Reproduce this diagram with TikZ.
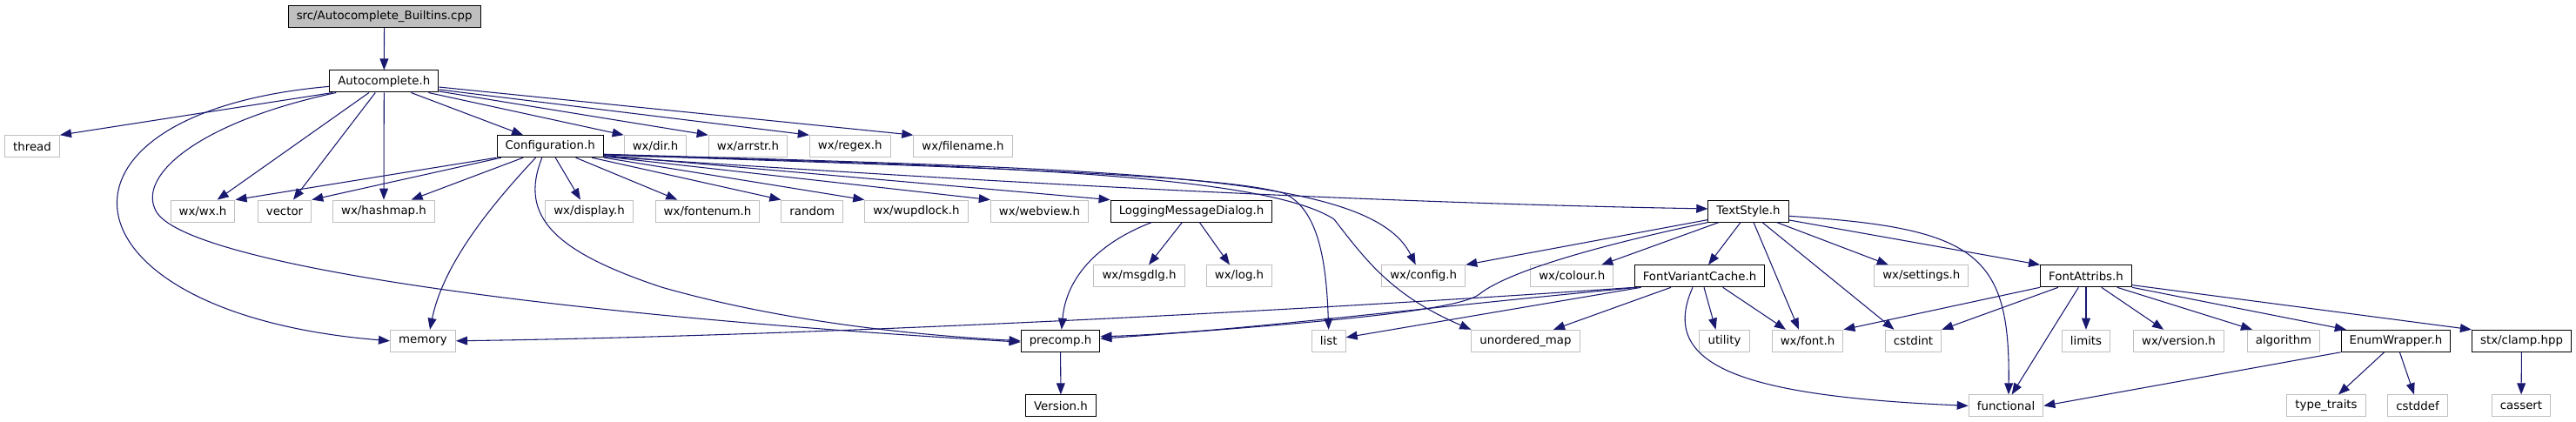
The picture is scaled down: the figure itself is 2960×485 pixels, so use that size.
\documentclass[tikz,border=0pt]{standalone}
\usepackage{fontspec}
\setmainfont{DejaVu Sans}
\usetikzlibrary{arrows.meta}

\definecolor{depblue}{HTML}{191970}
\definecolor{extgray}{HTML}{BFBFBF}
\definecolor{rootgray}{HTML}{BFBFBF}

\begin{document}
\begin{tikzpicture}[
  x=0.75pt, y=-0.75pt,
  font=\fontsize{10pt}{12pt}\selectfont,
  box/.style={draw, rectangle, line width=0.75pt, inner xsep=7.2pt, inner ysep=0pt, minimum height=18.75pt, fill=white, text=black},
  root/.style={box, draw=black, fill=rootgray},
  hdr/.style={box, draw=black},
  ext/.style={box, draw=extgray},
  dep/.style={-{Triangle[length=9.8pt,width=7.4pt]}, line width=0.8pt, draw=depblue},
]
\def\rowa{18.9}  % rank y positions
\def\rowb{93.5}
\def\rowc{168.2}
\def\rowd{242.6}
\def\rowe{317.3}
\def\rowf{391.8}
\def\rowg{466.4}

\fill[white] (0,0) rectangle (2960,485);
\useasboundingbox (0,0) rectangle (2960,485);

%% ============ rank 1 + 2 ============
\node[root] (src) at (441.6,\rowa) {src/Autocomplete\_Builtins.cpp};
\node[hdr] (autocomplete) at (441.3,\rowb) {Autocomplete.h};

%% ============ rank 3 ============
\node[ext] (thread) at (37,\rowc) {thread};
\node[hdr] (configuration) at (632.2,\rowc) {Configuration.h};
\node[ext] (wxdir) at (753,\rowc) {wx/dir.h};
\node[ext] (wxarrstr) at (859.5,\rowc) {wx/arrstr.h};
\node[ext] (wxregex) at (976.8,\rowc) {wx/regex.h};
\node[ext] (wxfilename) at (1106.5,\rowc) {wx/filename.h};

%% ============ rank 4 ============
\node[ext] (wxwx) at (233,\rowd) {wx/wx.h};
\node[ext] (vector) at (327,\rowd) {vector};
\node[ext] (wxhashmap) at (441,\rowd) {wx/hashmap.h};
\node[ext] (wxdisplay) at (677,\rowd) {wx/display.h};
\node[ext] (wxfontenum) at (813,\rowd) {wx/fontenum.h};
\node[ext] (random) at (933.3,\rowd) {random};
\node[ext] (wxwupdlock) at (1053,\rowd) {wx/wupdlock.h};
\node[ext] (wxwebview) at (1194.5,\rowd) {wx/webview.h};
\node[hdr] (logging) at (1369,\rowd) {LoggingMessageDialog.h};
\node[hdr] (textstyle) at (2009,\rowd) {TextStyle.h};

%% ============ rank 5 ============
\node[ext] (wxmsgdlg) at (1309,\rowe) {wx/msgdlg.h};
\node[ext] (wxlog) at (1424,\rowe) {wx/log.h};
\node[ext] (wxconfig) at (1635.7,\rowe) {wx/config.h};
\node[ext] (wxcolour) at (1806.3,\rowe) {wx/colour.h};
\node[hdr] (fontcache) at (1953,\rowe) {FontVariantCache.h};
\node[ext] (wxsettings) at (2207.8,\rowe) {wx/settings.h};
\node[hdr] (fontattribs) at (2397,\rowe) {FontAttribs.h};

%% ============ rank 6 ============
\node[ext] (memory) at (486,\rowf) {memory};
\node[hdr] (precomp) at (1218.5,\rowf) {precomp.h};
\node[ext] (list) at (1526.7,\rowf) {list};
\node[ext] (umap) at (1753,\rowf) {unordered\_map};
\node[ext] (utility) at (1981.5,\rowf) {utility};
\node[ext] (wxfont) at (2077,\rowf) {wx/font.h};
\node[ext] (cstdint) at (2198.5,\rowf) {cstdint};
\node[ext] (limits) at (2397,\rowf) {limits};
\node[ext] (wxversion) at (2503.5,\rowf) {wx/version.h};
\node[ext] (algorithm) at (2624,\rowf) {algorithm};
\node[hdr] (enumwrap) at (2753,\rowf) {EnumWrapper.h};
\node[hdr] (clamp) at (2897.5,\rowf) {stx/clamp.hpp};

%% ============ rank 7 ============
\node[hdr] (version) at (1219,\rowg) {Version.h};
\node[ext] (functional) at (2305,\rowg) {functional};
\node[ext] (typetraits) at (2673,\rowg) {type\_traits};
\node[ext] (cstddef) at (2778,\rowg) {cstddef};
\node[ext] (cassert) at (2897,\rowg) {cassert};

%% ============ Autocomplete_Builtins.cpp + Autocomplete.h ============
\draw[dep] (src) -- (autocomplete);
\draw[dep] ([xshift=3pt]autocomplete.south west) -- (thread.north east);
\draw[dep] ([yshift=-4.4pt]autocomplete.west) .. controls (30,130) and (60,360) .. (memory.west);
\draw[dep] ([xshift=6pt]autocomplete.south west) .. controls (230,140) and (160,200) .. (178,240)
  .. controls (200,300) and (600,360) .. ([yshift=-1pt]precomp.west);
\draw[dep] ([xshift=-13pt]autocomplete.south) -- ([xshift=12.5pt]wxwx.north);
\draw[dep] ([xshift=-7.5pt]autocomplete.south) -- ([xshift=7.5pt]vector.north);
\draw[dep] (autocomplete.south) -- (wxhashmap.north);
\draw[dep] ([xshift=23.3pt]autocomplete.south) -- ([xshift=-23.3pt]configuration.north);
\draw[dep] ([xshift=-9pt]autocomplete.south east) -- (wxdir.north west);
\draw[dep] ([yshift=-8.6pt]autocomplete.east) -- (wxarrstr.north west);
\draw[dep] ([yshift=-7.1pt]autocomplete.east) -- (wxregex.north west);
\draw[dep] ([yshift=-4.9pt]autocomplete.east) -- (wxfilename.north west);

%% ============ Configuration.h ============
\draw[dep] (configuration.south west) -- (wxwx.north east);
\draw[dep] ([xshift=4pt]configuration.south west) -- (vector.north east);
\draw[dep] ([xshift=-23.3pt]configuration.south) -- ([xshift=23.7pt]wxhashmap.north);
\draw[dep] ([xshift=-12.5pt]configuration.south) .. controls (570,230) and (510,300) .. ([xshift=6pt]memory.north);
\draw[dep] ([xshift=-7pt]configuration.south) .. controls (595,250) and (640,290) .. (760,330)
  .. controls (900,370) and (1050,385) .. (precomp.west);
\draw[dep] ([xshift=4.5pt]configuration.south) -- ([xshift=-7.5pt]wxdisplay.north);
\draw[dep] ([xshift=22pt]configuration.south) -- ([xshift=-26pt]wxfontenum.north);
\draw[dep] ([xshift=36pt]configuration.south) -- (random.north west);
\draw[dep] (configuration.south east) -- (wxwupdlock.north west);
\draw[dep] ([yshift=1pt]configuration.south east) -- (wxwebview.north west);
\draw[dep] ([yshift=2pt]configuration.south east) -- (logging.north west);
\draw[dep] ([yshift=1pt]configuration.south east) .. controls (1000,200) and (1500,232) .. ([yshift=2pt]textstyle.west);
\draw[dep] ([yshift=3pt]configuration.south east) .. controls (1300,195) and (1575,200) .. ([xshift=-6.75pt]wxconfig.north);
\draw[dep] ([yshift=2.5pt]configuration.south east) .. controls (1100,192) and (1400,200) .. (1475,222)
  .. controls (1515,240) and (1524,300) .. (list.north);
\draw[dep] ([yshift=2.5pt]configuration.south east) .. controls (1100,190) and (1450,198) .. (1533,252)
  .. controls (1570,300) and (1600,340) .. (umap.north west);

%% ============ TextStyle.h ============
\draw[dep] ([yshift=2.25pt]textstyle.south west) -- (wxconfig.north east);
\draw[dep] (textstyle.south west) .. controls (1800,290) and (1725,318) .. (1700,338)
  .. controls (1675,358) and (1500,372) .. ([yshift=1.9pt]precomp.east);
\draw[dep] ([xshift=-25.5pt]textstyle.south) -- ([xshift=25.5pt]wxcolour.north);
\draw[dep] ([xshift=-6.75pt]textstyle.south) -- ([xshift=7.5pt]fontcache.north);
\draw[dep] ([xshift=4.5pt]textstyle.south) -- ([xshift=-7.5pt]wxfont.north);
\draw[dep] ([xshift=12pt]textstyle.south) -- ([xshift=-16.5pt]cstdint.north);
\draw[dep] ([xshift=24.5pt]textstyle.south) -- ([xshift=-28.5pt]wxsettings.north);
\draw[dep] ([yshift=2pt]textstyle.south east) -- (fontattribs.north west);
\draw[dep] ([yshift=-4.3pt]textstyle.east) .. controls (2270,262) and (2310,290) .. ([xshift=2.25pt]functional.north);

%% ============ FontVariantCache.h ============
\draw[dep] (fontcache.south west) .. controls (1600,350) and (1000,385) .. (memory.east);
\draw[dep] ([xshift=3pt]fontcache.south west) .. controls (1600,357) and (1400,383) .. ([yshift=3.8pt]precomp.east);
\draw[dep] ([xshift=6pt]fontcache.south west) -- ([yshift=3pt]list.east);
\draw[dep] ([xshift=-24.75pt]fontcache.south) -- ([xshift=24pt]umap.north);
\draw[dep] ([xshift=3.75pt]fontcache.south) -- ([xshift=-7.5pt]utility.north);
\draw[dep] ([xshift=20pt]fontcache.south) -- ([xshift=-18.75pt]wxfont.north);
\draw[dep] ([xshift=-6pt]fontcache.south) .. controls (1905,420) and (2000,455) .. (functional.west);

%% ============ FontAttribs.h ============
\draw[dep] (fontattribs.south west) -- (wxfont.north east);
\draw[dep] ([xshift=-24pt]fontattribs.south) -- (cstdint.north east);
\draw[dep] ([xshift=-6.5pt]fontattribs.south) -- ([xshift=5pt]functional.north);
\draw[dep] (fontattribs.south) -- (limits.north);
\draw[dep] ([xshift=13.3pt]fontattribs.south) -- ([xshift=-13pt]wxversion.north);
\draw[dep] ([xshift=26.8pt]fontattribs.south) -- ([xshift=-27pt]algorithm.north);
\draw[dep] (fontattribs.south east) -- ([xshift=4.7pt]enumwrap.north west);
\draw[dep] ([yshift=2pt]fontattribs.south east) -- (clamp.north west);

%% ============ lower headers ============
\draw[dep] (enumwrap.south west) -- (functional.east);
\draw[dep] ([xshift=-10pt]enumwrap.south) -- ([xshift=10.5pt]typetraits.north);
\draw[dep] ([xshift=3.3pt]enumwrap.south) -- ([xshift=-3pt]cstddef.north);
\draw[dep] (clamp) -- (cassert);
\draw[dep] ([xshift=-34.3pt]logging.south) .. controls (1260,280) and (1225,320) .. ([xshift=1pt]precomp.north);
\draw[dep] ([xshift=-8pt]logging.south) -- ([xshift=8.25pt]wxmsgdlg.north);
\draw[dep] ([xshift=7pt]logging.south) -- ([xshift=-8.25pt]wxlog.north);
\draw[dep] (precomp) -- (version);

\end{tikzpicture}
\end{document}
